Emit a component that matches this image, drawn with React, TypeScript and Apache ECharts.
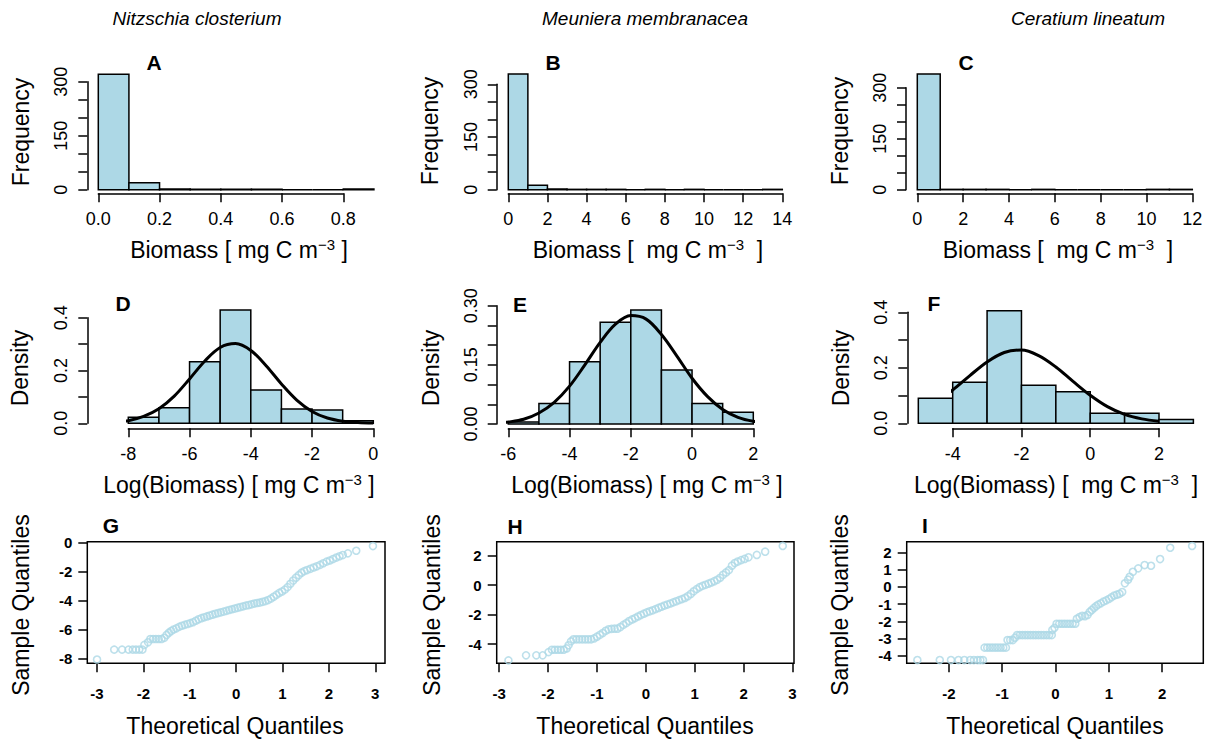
import React, { useEffect, useRef } from "react";
import * as echarts from "echarts";

const FONT = "'Liberation Sans', Arial, Helvetica, sans-serif";
const BAR_FILL = "#ADD8E6";
const QQ_COLOR = "#ADD8E6";

// ---------------- texts ----------------
const speciesTitles = ["Nitzschia closterium", "Meuniera membranacea", "Ceratium lineatum"];
const panelLetters = ["A", "B", "C", "D", "E", "F", "G", "H", "I"];
const xTitles = [
  "Biomass [ mg C m{sup|−3} ]",
  "Biomass [  mg C m{sup|−3}  ]",
  "Biomass [  mg C m{sup|−3}  ]",
  "Log(Biomass) [ mg C m{sup|−3} ]",
  "Log(Biomass) [ mg C m{sup|−3} ]",
  "Log(Biomass) [  mg C m{sup|−3}  ]",
  "Theoretical Quantiles",
  "Theoretical Quantiles",
  "Theoretical Quantiles",
];
const yTitles = ["Frequency", "Frequency", "Frequency", "Density", "Density", "Density", "Sample Quantiles", "Sample Quantiles", "Sample Quantiles"];

// ---------------- data: histograms (counts) ----------------
const histABreaks = [0, 0.1, 0.2, 0.3, 0.4, 0.5, 0.6, 0.7, 0.8, 0.9];
const histACounts = [321, 19, 2, 1, 1, 1, 0, 0, 2];
const histBBreaks = [0, 1, 2, 3, 4, 5, 6, 7, 8, 9, 10, 11, 12, 13, 14];
const histBCounts = [329, 13, 2, 1, 1, 1, 0, 1, 0, 1, 0, 0, 0, 1];
const histCBreaks = [0, 1, 2, 3, 4, 5, 6, 7, 8, 9, 10, 11, 12];
const histCCounts = [340, 1, 1, 1, 0, 1, 0, 0, 0, 0, 1, 1];

// ---------------- data: log histograms (density) ----------------
const densDBreaks = [-8, -7, -6, -5, -4, -3, -2, -1, 0];
const densDValues = [0.023, 0.059, 0.233, 0.429, 0.126, 0.054, 0.05, 0.01];
const densEBreaks = [-6, -5, -4, -3, -2, -1, 0, 1, 2];
const densEValues = [0.005, 0.052, 0.158, 0.258, 0.289, 0.137, 0.052, 0.03];
const densFBreaks = [-5, -4, -3, -2, -1, 0, 1, 2, 3];
const densFValues = [0.09, 0.148, 0.406, 0.137, 0.114, 0.036, 0.036, 0.014];

// ---------------- data: fitted normal curves ----------------
const curveD = [
  [-9, 0.001], [-8.5, 0.0035], [-8, 0.01], [-7.5, 0.026], [-7, 0.055], [-6.5, 0.103], [-6, 0.168],
  [-5.5, 0.236], [-5, 0.287], [-4.5, 0.302], [-4, 0.276], [-3.5, 0.218], [-3, 0.149], [-2.5, 0.088],
  [-2, 0.045], [-1.5, 0.02], [-1, 0.008], [-0.5, 0.003], [0, 0.001],
];
const curveE = [
  [-6.4, 0.002], [-6, 0.005], [-5.5, 0.012], [-5, 0.028], [-4.5, 0.055], [-4, 0.096], [-3.5, 0.15],
  [-3, 0.207], [-2.5, 0.253], [-2, 0.275], [-1.5, 0.266], [-1, 0.227], [-0.5, 0.173], [0, 0.116],
  [0.5, 0.07], [1, 0.037], [1.5, 0.017], [2, 0.007], [2.5, 0.003], [3, 0.001],
];
const curveF = [
  [-5.32, 0.028], [-5, 0.042], [-4.5, 0.075], [-4, 0.12], [-3.5, 0.172], [-3, 0.221], [-2.5, 0.255],
  [-2, 0.264], [-1.5, 0.244], [-1, 0.203], [-0.5, 0.151], [0, 0.101], [0.5, 0.06], [1, 0.032],
  [1.5, 0.016], [2, 0.007],
];

// ---------------- data: QQ plots (theoretical, sample) ----------------
const qqG = [
  [-3.0, -8.04], [-2.63, -7.36], [-2.46, -7.36], [-2.32, -7.36], [-2.23, -7.36], [-2.16, -7.36], [-2.09, -7.36],
  [-2.02, -7.36], [-1.98, -7.04], [-1.9, -6.86], [-1.85, -6.63], [-1.79, -6.63], [-1.73, -6.63], [-1.67, -6.63],
  [-1.61, -6.63], [-1.55, -6.55], [-1.5, -6.35], [-1.45, -6.2], [-1.4, -6.08], [-1.35, -5.98], [-1.29, -5.9],
  [-1.23, -5.8], [-1.17, -5.72], [-1.11, -5.66], [-1.05, -5.6], [-0.99, -5.54], [-0.93, -5.48], [-0.87, -5.38],
  [-0.81, -5.28], [-0.75, -5.2], [-0.69, -5.14], [-0.63, -5.08], [-0.57, -5.02], [-0.51, -4.96], [-0.45, -4.9],
  [-0.39, -4.85], [-0.33, -4.8], [-0.27, -4.75], [-0.21, -4.7], [-0.15, -4.64], [-0.09, -4.59], [-0.03, -4.54],
  [0.03, -4.49], [0.09, -4.44], [0.15, -4.39], [0.21, -4.34], [0.27, -4.3], [0.33, -4.25], [0.39, -4.2],
  [0.45, -4.16], [0.51, -4.13], [0.57, -4.08], [0.63, -4.03], [0.69, -3.96], [0.75, -3.86], [0.81, -3.73],
  [0.87, -3.6], [0.93, -3.47], [0.99, -3.37], [1.05, -3.24], [1.11, -3.07], [1.17, -2.84], [1.23, -2.62],
  [1.29, -2.42], [1.35, -2.25], [1.41, -2.08], [1.47, -1.97], [1.53, -1.9], [1.6, -1.81], [1.67, -1.72],
  [1.74, -1.64], [1.81, -1.54], [1.88, -1.43], [1.95, -1.32], [2.02, -1.24], [2.09, -1.14], [2.16, -1.04],
  [2.23, -0.95], [2.3, -0.87], [2.41, -0.75], [2.59, -0.57], [2.95, -0.25],
];
const qqH = [
  [-2.81, -5.11], [-2.45, -4.77], [-2.24, -4.77], [-2.11, -4.77], [-1.99, -4.55], [-1.92, -4.39], [-1.86, -4.39],
  [-1.8, -4.39], [-1.74, -4.39], [-1.68, -4.39], [-1.62, -4.3], [-1.58, -4.09], [-1.53, -3.82], [-1.48, -3.68],
  [-1.42, -3.68], [-1.36, -3.68], [-1.3, -3.68], [-1.24, -3.68], [-1.18, -3.68], [-1.12, -3.68], [-1.06, -3.62],
  [-1.0, -3.5], [-0.94, -3.38], [-0.88, -3.25], [-0.82, -3.1], [-0.76, -3.0], [-0.7, -2.97], [-0.64, -2.96],
  [-0.58, -2.96], [-0.52, -2.85], [-0.46, -2.7], [-0.4, -2.58], [-0.34, -2.44], [-0.28, -2.33], [-0.22, -2.24],
  [-0.16, -2.13], [-0.1, -2.03], [-0.04, -1.94], [0.02, -1.85], [0.08, -1.78], [0.14, -1.71], [0.2, -1.63],
  [0.26, -1.55], [0.32, -1.47], [0.38, -1.39], [0.44, -1.32], [0.5, -1.25], [0.56, -1.17], [0.62, -1.1],
  [0.68, -1.02], [0.74, -0.95], [0.8, -0.87], [0.86, -0.75], [0.92, -0.6], [0.98, -0.42], [1.04, -0.27],
  [1.1, -0.14], [1.16, -0.05], [1.22, 0.02], [1.28, 0.1], [1.34, 0.18], [1.4, 0.27], [1.46, 0.36], [1.52, 0.5],
  [1.58, 0.7], [1.64, 0.86], [1.7, 1.02], [1.76, 1.32], [1.82, 1.5], [1.88, 1.6], [1.95, 1.7], [2.02, 1.78],
  [2.1, 1.89], [2.27, 2.05], [2.44, 2.27], [2.8, 2.66],
];
const qqI = [
  [-2.59, -4.25], [-2.17, -4.25], [-1.96, -4.25], [-1.82, -4.25], [-1.71, -4.25], [-1.6, -4.25], [-1.53, -4.25],
  [-1.46, -4.25], [-1.41, -4.25], [-1.36, -4.25], [-1.33, -3.53], [-1.28, -3.53], [-1.23, -3.53], [-1.18, -3.53],
  [-1.13, -3.53], [-1.08, -3.53], [-1.03, -3.53], [-0.98, -3.53], [-0.93, -3.53], [-0.9, -3.09], [-0.85, -3.09],
  [-0.8, -3.09], [-0.76, -2.95], [-0.72, -2.8], [-0.67, -2.8], [-0.62, -2.8], [-0.57, -2.8], [-0.52, -2.8],
  [-0.47, -2.8], [-0.42, -2.8], [-0.37, -2.8], [-0.32, -2.8], [-0.27, -2.8], [-0.22, -2.8], [-0.17, -2.8],
  [-0.12, -2.8], [-0.07, -2.8], [-0.06, -2.5], [-0.02, -2.38], [0.02, -2.14], [0.07, -2.14], [0.12, -2.14],
  [0.17, -2.14], [0.22, -2.14], [0.27, -2.14], [0.32, -2.14], [0.37, -2.14], [0.4, -1.85], [0.45, -1.75],
  [0.5, -1.68], [0.55, -1.7], [0.6, -1.63], [0.64, -1.45], [0.68, -1.34], [0.72, -1.22], [0.76, -1.12],
  [0.8, -1.03], [0.85, -0.95], [0.9, -0.85], [0.95, -0.78], [1.0, -0.7], [1.05, -0.6], [1.1, -0.5],
  [1.15, -0.45], [1.2, -0.4], [1.25, -0.3], [1.3, 0.21], [1.36, 0.42], [1.39, 0.59], [1.45, 0.88],
  [1.55, 1.08], [1.67, 1.27], [1.79, 1.23], [1.96, 1.62], [2.15, 2.28], [2.56, 2.38],
];

// ---------------- tick labels ----------------
const qqGXTicks = [-3, -2, -1, 0, 1, 2, 3];
const qqGYTicks = [-8, -6, -4, -2, 0];
const qqHXTicks = [-3, -2, -1, 0, 1, 2, 3];
const qqHYTicks = [-4, -2, 0, 2];
const qqIXTicks = [-2, -1, 0, 1, 2];
const qqIYTicks = [-4, -3, -2, -1, 0, 1, 2];

// ---------------- layout (pixels) ----------------
const HIST_LAYOUT = [
  { left: 98.3, top: 81.7, width: 245, height: 108, xOff: 3.6, yOff: 11 },
  { left: 508.3, top: 84.3, width: 274, height: 105.4, xOff: 3.6, yOff: 11.6 },
  { left: 917.3, top: 87.7, width: 275, height: 102, xOff: 3.6, yOff: 11.3 },
  { left: 128.3, top: 317.7, width: 245, height: 105.6, xOff: 5, yOff: 41 },
  { left: 508.3, top: 305.7, width: 245, height: 118.3, xOff: 4.3, yOff: 11.6 },
  { left: 952.7, top: 312.3, width: 206.3, height: 111, xOff: 5, yOff: 45.4 },
];
const HIST_SCALES = [
  { xMin: 0, xMax: 0.8, xStep: 0.2, xDigits: 1, yMax: 300, yStep: 50, yLabelStep: 150, yDigits: 0 },
  { xMin: 0, xMax: 14, xStep: 2, xDigits: 0, yMax: 300, yStep: 50, yLabelStep: 150, yDigits: 0 },
  { xMin: 0, xMax: 12, xStep: 2, xDigits: 0, yMax: 300, yStep: 50, yLabelStep: 150, yDigits: 0 },
  { xMin: -8, xMax: 0, xStep: 2, xDigits: 0, yMax: 0.4, yStep: 0.1, yLabelStep: 0.2, yDigits: 1 },
  { xMin: -6, xMax: 2, xStep: 2, xDigits: 0, yMax: 0.3, yStep: 0.05, yLabelStep: 0.15, yDigits: 2 },
  { xMin: -4, xMax: 2, xStep: 2, xDigits: 0, yMax: 0.4, yStep: 0.1, yLabelStep: 0.2, yDigits: 1 },
];
const QQ_LAYOUT = [
  { left: 87.3, top: 541.7, width: 297.7, height: 121.6, xMin: -3.21, xMax: 3.21, yMin: -8.3, yMax: 0.05 },
  { left: 496.7, top: 541.7, width: 297.3, height: 121.6, xMin: -3.05, xMax: 3.03, yMin: -5.31, yMax: 2.95 },
  { left: 906.7, top: 541.7, width: 296.6, height: 121.6, xMin: -2.79, xMax: 2.77, yMin: -4.44, yMax: 2.63 },
];
const TITLE_POS = [[197, 18], [645, 18], [1088, 18]];
const LETTER_POS = [[154, 62], [553, 62], [966, 62], [123, 303], [520, 304], [934, 303], [111, 525], [515, 526], [925, 525]];
const XTITLE_POS = [[239, 250], [648, 250], [1058, 250], [239, 485], [647, 485], [1056, 485], [235, 726], [645, 726], [1055, 726]];
const YTITLE_POS = [[21, 132], [430, 131], [840, 131], [20, 368], [431, 368], [841, 368], [21, 605], [432, 605], [840, 605]];

const histData = [
  [histABreaks, histACounts],
  [histBBreaks, histBCounts],
  [histCBreaks, histCCounts],
  [densDBreaks, densDValues],
  [densEBreaks, densEValues],
  [densFBreaks, densFValues],
];
const curves = [curveD, curveE, curveF];
const qqData = [qqG, qqH, qqI];
const qqTicks = [
  [qqGXTicks, qqGYTicks],
  [qqHXTicks, qqHYTicks],
  [qqIXTicks, qqIYTicks],
];

const isMultiple = (v: number, step: number) => Math.abs(v / step - Math.round(v / step)) < 1e-6;

const axisLineStyle = { color: "#000", width: 1.5 };

function textEl(x: number, y: number, text: string, opt: any = {}) {
  return {
    type: "text",
    x,
    y,
    rotation: opt.rotation || 0,
    silent: true,
    z: 10,
    style: {
      text,
      fontSize: opt.fontSize || 22,
      fontFamily: FONT,
      fontWeight: opt.fontWeight || "normal",
      fontStyle: opt.fontStyle || "normal",
      fill: "#000",
      lineHeight: opt.lineHeight,
      align: "center",
      verticalAlign: "middle",
      textAlign: "center",
      textVerticalAlign: "middle",
      rich: opt.rich,
    },
  };
}

function buildOption() {
  const grids: any[] = [];
  const xAxes: any[] = [];
  const yAxes: any[] = [];
  const series: any[] = [];

  HIST_LAYOUT.forEach((L, i) => {
    const S = HIST_SCALES[i];
    grids.push({ left: L.left, top: L.top, width: L.width, height: L.height, show: false, containLabel: false, outerBoundsMode: "none" });
    xAxes.push({
      type: "value",
      gridIndex: i,
      min: S.xMin,
      max: S.xMax,
      interval: S.xStep,
      position: "bottom",
      offset: L.xOff,
      axisLine: { show: true, onZero: false, lineStyle: axisLineStyle },
      axisTick: { show: true, inside: false, length: 9, lineStyle: axisLineStyle },
      axisLabel: {
        show: true,
        margin: 17,
        fontSize: 18,
        fontFamily: FONT,
        color: "#000",
        formatter: (v: number) => Number(v).toFixed(S.xDigits),
      },
      splitLine: { show: false },
    });
    yAxes.push({
      type: "value",
      gridIndex: i,
      min: 0,
      max: S.yMax,
      interval: S.yStep,
      position: "left",
      offset: L.yOff,
      axisLine: { show: true, onZero: false, lineStyle: axisLineStyle },
      axisTick: { show: true, inside: false, length: 9, lineStyle: axisLineStyle },
      axisLabel: {
        show: true,
        rotate: 90,
        margin: 17,
        fontSize: 18,
        fontFamily: FONT,
        color: "#000",
        formatter: (v: number) => (isMultiple(Number(v), S.yLabelStep) ? Number(v).toFixed(S.yDigits) : ""),
      },
      splitLine: { show: false },
    });
    const [breaks, vals] = histData[i];
    series.push({
      type: "custom",
      xAxisIndex: i,
      yAxisIndex: i,
      clip: false,
      encode: { x: [0, 1], y: 2 },
      data: (vals as number[]).map((v, k) => [breaks[k], breaks[k + 1], v]),
      renderItem: (params: any, api: any) => {
        const p0 = api.coord([api.value(0), 0]);
        const p1 = api.coord([api.value(1), api.value(2)]);
        return {
          type: "rect",
          shape: { x: p0[0], y: p1[1], width: p1[0] - p0[0], height: p0[1] - p1[1] },
          style: { fill: BAR_FILL, stroke: "#000", lineWidth: 1.5 },
        };
      },
      z: 2,
    });
  });

  curves.forEach((c, j) => {
    const i = 3 + j;
    series.push({
      type: "line",
      xAxisIndex: i,
      yAxisIndex: i,
      data: c,
      smooth: 0.35,
      symbol: "none",
      showSymbol: false,
      clip: false,
      lineStyle: { color: "#000", width: 3 },
      z: 5,
    });
  });

  QQ_LAYOUT.forEach((L, j) => {
    const i = 6 + j;
    const [xt, yt] = qqTicks[j];
    grids.push({
      left: L.left,
      top: L.top,
      width: L.width,
      height: L.height,
      show: true,
      borderColor: "#000",
      borderWidth: 1.5,
      backgroundColor: "transparent",
      containLabel: false,
      outerBoundsMode: "none",
    });
    xAxes.push({
      type: "value",
      gridIndex: i,
      min: L.xMin,
      max: L.xMax,
      position: "bottom",
      axisLine: { show: false, onZero: false },
      axisTick: { show: true, inside: false, length: 9, lineStyle: axisLineStyle, customValues: xt },
      axisLabel: {
        show: true,
        margin: 23,
        fontSize: 15,
        fontWeight: "bold",
        fontFamily: FONT,
        color: "#000",
        customValues: xt,
        formatter: (v: number) => String(Math.round(v)),
      },
      splitLine: { show: false },
    });
    yAxes.push({
      type: "value",
      gridIndex: i,
      min: L.yMin,
      max: L.yMax,
      position: "left",
      axisLine: { show: false, onZero: false },
      axisTick: { show: true, inside: false, length: 9, lineStyle: axisLineStyle, customValues: yt },
      axisLabel: {
        show: true,
        margin: 15,
        fontSize: 15,
        fontWeight: "bold",
        fontFamily: FONT,
        color: "#000",
        customValues: yt,
        formatter: (v: number) => String(Math.round(v)),
      },
      splitLine: { show: false },
    });
    series.push({
      type: "scatter",
      xAxisIndex: i,
      yAxisIndex: i,
      data: qqData[j],
      symbol: "circle",
      symbolSize: 7,
      itemStyle: { color: "rgba(0,0,0,0)", borderColor: QQ_COLOR, borderWidth: 1.6 },
      z: 3,
    });
  });

  const supRich = {
    sup: { fontSize: 15, fontFamily: FONT, fill: "#000", lineHeight: 14, verticalAlign: "top" },
  };
  const graphics: any[] = [];
  speciesTitles.forEach((t, k) => {
    graphics.push(textEl(TITLE_POS[k][0], TITLE_POS[k][1], t, { fontSize: 19, fontStyle: "italic" }));
  });
  panelLetters.forEach((t, k) => {
    graphics.push(textEl(LETTER_POS[k][0], LETTER_POS[k][1], t, { fontSize: 21, fontWeight: "bold" }));
  });
  xTitles.forEach((t, k) => {
    graphics.push(textEl(XTITLE_POS[k][0], XTITLE_POS[k][1], t, { fontSize: 23, lineHeight: 27, rich: supRich }));
  });
  yTitles.forEach((t, k) => {
    graphics.push(textEl(YTITLE_POS[k][0], YTITLE_POS[k][1], t, { fontSize: 23, rotation: Math.PI / 2 }));
  });

  return {
    animation: false,
    backgroundColor: "#fff",
    textStyle: { fontFamily: FONT },
    grid: grids,
    xAxis: xAxes,
    yAxis: yAxes,
    series,
    graphic: { elements: graphics },
  };
}

export default function App() {
  const ref = useRef<HTMLDivElement>(null);
  useEffect(() => {
    if (!ref.current) return;
    const chart = echarts.init(ref.current, null, { renderer: "svg" });
    chart.setOption(buildOption() as any);
    return () => {
      chart.dispose();
    };
  }, []);
  return (
    <div
      ref={ref}
      style={{ position: "fixed", left: 0, top: 0, width: 1213, height: 739, background: "#fff" }}
    />
  );
}
